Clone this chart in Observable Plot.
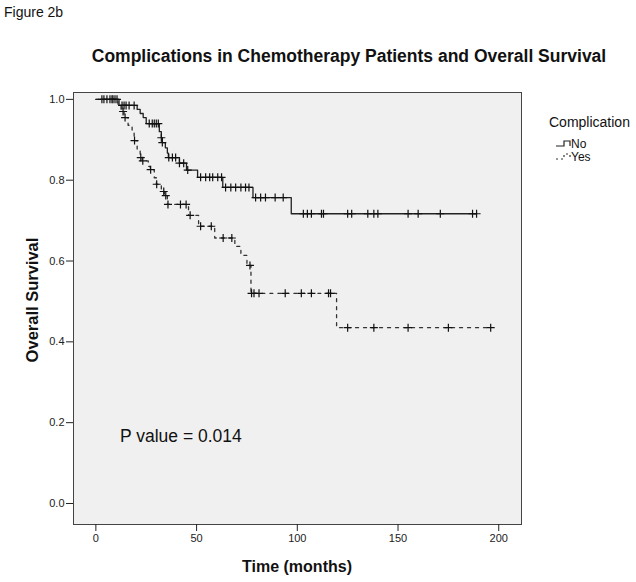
<!DOCTYPE html>
<html>
<head>
<meta charset="utf-8">
<script src="https://cdn.jsdelivr.net/npm/d3@7"></script>
<script src="https://cdn.jsdelivr.net/npm/@observablehq/plot@0.6"></script>
<style>
  html, body { margin: 0; padding: 0; background: #fff; }
  #wrap { position: relative; width: 636px; height: 582px; font-family: "Liberation Sans", Arial, sans-serif; color: #111; }
  .abs { position: absolute; white-space: nowrap; line-height: 1; }
  #chart { position: absolute; left: 0; top: 0; }
</style>
</head>
<body>
<div id="wrap">
  <div id="chart"></div>
  <div class="abs" style="left:4px;top:5px;font-size:14px;">Figure 2b</div>
  <div class="abs" style="left:49px;width:600px;top:48px;text-align:center;font-size:17.5px;font-weight:bold;">Complications in Chemotherapy Patients and Overall Survival</div>
  <div class="abs" style="left:217px;width:160px;top:559px;text-align:center;font-size:16px;font-weight:bold;">Time (months)</div>
  <div class="abs" style="left:32px;top:300px;font-size:16.5px;font-weight:bold;transform:translate(-50%,-50%) rotate(-90deg);transform-origin:center;">Overall Survival</div>
  <div class="abs" style="left:120px;top:428px;font-size:17.5px;">P value = 0.014</div>
  <div class="abs" style="left:549px;top:115px;font-size:14px;">Complication</div>
  <div class="abs" style="left:556px;top:137px;font-size:12px;">
    <svg width="15" height="10" style="vertical-align:middle"><path d="M0,7H8V2H14V7" fill="none" stroke="#222" stroke-width="1.2"/></svg><span style="vertical-align:middle">No</span>
  </div>
  <div class="abs" style="left:556px;top:150px;font-size:12px;">
    <svg width="15" height="10" style="vertical-align:middle"><path d="M0,7H8V2H14V7" fill="none" stroke="#333" stroke-width="1.2" stroke-dasharray="2,3"/></svg><span style="vertical-align:middle">Yes</span>
  </div>
</div>
<script>
// Step events (time in months, survival after the event)
const noTimes = [0, 11.5, 20.5, 22, 23.5, 25, 31.5, 32.5, 33, 34.5, 35.5, 36, 41.5, 45, 50.5, 63, 78, 97];
const noSurv  = [1.0, 0.985, 0.975, 0.965, 0.955, 0.94, 0.92, 0.905, 0.893, 0.88, 0.867, 0.856, 0.842, 0.825, 0.807, 0.782, 0.757, 0.717];
const noCensor = [3, 5.5, 7, 8.5, 9.5, 10.5, 13, 14, 15, 16.5, 19, 26.5, 28, 29, 30, 31, 32.5, 33, 36.2, 38, 39.6, 41.5, 43.6, 45.6,
  52, 54.5, 56.5, 58, 60.5, 62.4, 64.4, 67, 69.4, 72, 74.3, 76, 79.3, 81.8, 84.2, 89, 93,
  103, 105, 107, 112, 113, 125, 127, 135, 138, 140, 155, 160, 171, 187, 189];

const yesTimes = [0, 11, 12.5, 14, 16, 18, 19, 20.5, 22, 23, 26, 27, 29, 30, 32.5, 34, 35.5, 46, 51, 59, 69, 72, 75, 77, 119.5];
const yesSurv  = [1.0, 0.985, 0.97, 0.955, 0.936, 0.918, 0.898, 0.877, 0.856, 0.848, 0.834, 0.826, 0.806, 0.79, 0.772, 0.762, 0.74, 0.713, 0.686, 0.657, 0.636, 0.614, 0.589, 0.52, 0.435];
const yesCensor = [4, 8, 13.5, 14.5, 19.2, 22.3, 23.3, 27.2, 30.2, 33.7, 34.7, 35.8, 42, 44.8, 46.8, 52, 57.3, 63.2, 67.5, 76.5,
  77.3, 78.5, 81, 94, 102, 107, 115.5, 116.5, 125, 138, 155, 175, 196];

const xTicks = [0, 50, 100, 150, 200];
const yTicks = [0.0, 0.2, 0.4, 0.6, 0.8, 1.0];

function survAt(times, surv, t) {
  let s = surv[0];
  for (let i = 0; i < times.length; i++) if (times[i] <= t) s = surv[i];
  return s;
}
function curve(times, surv, censor, group) {
  const pts = times.map((t, i) => ({t, s: surv[i], group}));
  const end = d3.max(censor);
  pts.push({t: end, s: survAt(times, surv, end), group});
  return pts;
}
function marks(times, surv, censor, group) {
  return censor.map(t => ({t, s: survAt(times, surv, t), group}));
}
const noLine = curve(noTimes, noSurv, noCensor, "No");
const yesLine = curve(yesTimes, yesSurv, yesCensor, "Yes");
const noMarks = marks(noTimes, noSurv, noCensor, "No");
const yesMarks = marks(yesTimes, yesSurv, yesCensor, "Yes");

const plusSymbol = {
  draw(ctx, size) {
    const r = Math.sqrt(size / Math.PI);
    ctx.moveTo(-r, 0); ctx.lineTo(r, 0);
    ctx.moveTo(0, -r); ctx.lineTo(0, r);
  }
};

const chart = Plot.plot({
  width: 636,
  height: 582,
  marginLeft: 73,
  marginRight: 115,
  marginTop: 92,
  marginBottom: 58,
  style: {fontFamily: "'Liberation Sans', Arial, sans-serif", fontSize: "11px", color: "#222", background: "transparent"},
  x: {domain: [-11.1, 211.3], label: null},
  y: {domain: [-0.052, 1.017], label: null},
  marks: [
    Plot.frame({fill: "#f0f0f0", stroke: "#444", strokeWidth: 1}),
    Plot.axisX({ticks: xTicks, tickSize: 7, tickPadding: 3, label: null, stroke: "#222"}),
    Plot.axisY({ticks: yTicks, tickFormat: d3.format(".1f"), tickSize: 7, tickPadding: 2, label: null, stroke: "#222"}),
    Plot.line(yesLine, {x: "t", y: "s", curve: "step-after", stroke: "#333", strokeWidth: 1.3, strokeDasharray: "3,5"}),
    Plot.line(noLine, {x: "t", y: "s", curve: "step-after", stroke: "#222", strokeWidth: 1.3}),
    Plot.dot(yesMarks, {x: "t", y: "s", symbol: plusSymbol, r: 4, stroke: "#111", fill: "none", strokeWidth: 1.2}),
    Plot.dot(noMarks, {x: "t", y: "s", symbol: plusSymbol, r: 4, stroke: "#111", fill: "none", strokeWidth: 1.2})
  ]
});
document.getElementById("chart").appendChild(chart);
</script>
</body>
</html>
